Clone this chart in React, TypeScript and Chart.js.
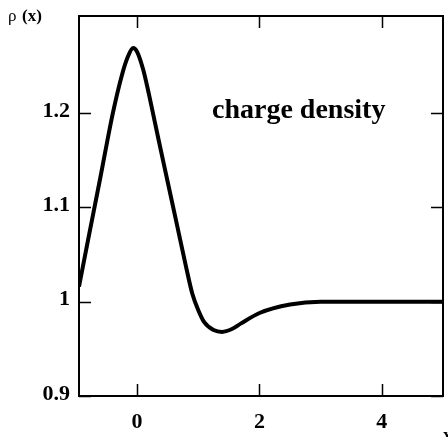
import React, { useEffect, useRef } from "react";
import { Chart, registerables } from "chart.js";

Chart.register(...registerables);

const xValues = [-0.95, -0.8, -0.6, -0.4, -0.25, -0.15, -0.065, 0.0, 0.1, 0.2, 0.35, 0.5, 0.65, 0.8, 0.9, 1.0, 1.1, 1.25, 1.39, 1.55, 1.7, 2.0, 2.5, 3.0, 3.5, 4.0, 4.5, 5.0];
const rhoValues = [1.016, 1.066, 1.132, 1.199, 1.24, 1.26, 1.269, 1.265, 1.246, 1.218, 1.172, 1.127, 1.082, 1.037, 1.009, 0.991, 0.978, 0.97, 0.968, 0.971, 0.977, 0.988, 0.997, 1.0, 1.0, 1.0, 1.0, 1.0];
const xTicks = [0, 2, 4];
const xTickLabels = ["0", "2", "4"];
const yTicks = [0.9, 1.0, 1.1, 1.2];
const yTickLabels = ["0.9", "1", "1.1", "1.2"];

const framePlugin = {
  id: "frame",
  afterDraw(chart: any) {
    const { ctx, chartArea } = chart;
    const xs = chart.scales.x;
    const ys = chart.scales.y;
    const { left, right, top, bottom } = chartArea;
    ctx.save();
    ctx.strokeStyle = "#000";
    ctx.lineWidth = 2;
    ctx.strokeRect(left, top, right - left, bottom - top);
    ctx.lineWidth = 1.5;
    const tl = 12;
    ctx.beginPath();
    xTicks.forEach((v) => {
      const px = Math.round(xs.getPixelForValue(v)) + 0.5;
      ctx.moveTo(px, bottom);
      ctx.lineTo(px, bottom - tl);
      ctx.moveTo(px, top);
      ctx.lineTo(px, top + tl);
    });
    yTicks.forEach((v) => {
      const py = Math.round(ys.getPixelForValue(v)) + 0.5;
      ctx.moveTo(left, py);
      ctx.lineTo(left + tl, py);
      ctx.moveTo(right, py);
      ctx.lineTo(right - tl, py);
    });
    ctx.stroke();

    ctx.fillStyle = "#000";
    ctx.font = "bold 22px 'Liberation Serif'";
    ctx.textAlign = "center";
    ctx.textBaseline = "middle";
    xTicks.forEach((v, i) => {
      ctx.fillText(xTickLabels[i], xs.getPixelForValue(v), bottom + 26);
    });
    ctx.textAlign = "right";
    yTicks.forEach((v, i) => {
      ctx.fillText(yTickLabels[i], left - 9, ys.getPixelForValue(v) - 2);
    });

    ctx.font = "bold 28px 'Liberation Serif'";
    ctx.textAlign = "left";
    ctx.textBaseline = "alphabetic";
    ctx.fillText("charge density", 212, 118);

    ctx.font = "17px 'Liberation Serif'";
    ctx.textBaseline = "middle";
    ctx.fillText("ρ", 8, 17);
    ctx.font = "bold 17px 'Liberation Serif'";
    ctx.fillText("(x)", 22, 17);
    ctx.font = "bold 17px 'Liberation Serif'";
    ctx.fillText("x", 443, 436);
    ctx.restore();
  },
};

export default function App() {
  const ref = useRef<HTMLCanvasElement | null>(null);
  useEffect(() => {
    document.body.style.margin = "0";
    const canvas = ref.current!;
    const chart = new Chart(canvas, {
      type: "line",
      data: {
        datasets: [
          {
            data: xValues.map((x, i) => ({ x, y: rhoValues[i] })),
            borderColor: "#000",
            borderWidth: 4,
            pointRadius: 0,
            fill: false,
            cubicInterpolationMode: "monotone",
          },
        ],
      },
      options: {
        responsive: false,
        animation: false,
        layout: { padding: { left: 79, right: 5, top: 16, bottom: 41 } },
        plugins: { legend: { display: false }, tooltip: { enabled: false } },
        scales: {
          x: { type: "linear", min: -0.95, max: 5, display: false },
          y: { type: "linear", min: 0.9, max: 1.303, display: false },
        },
      },
      plugins: [framePlugin],
    });
    return () => chart.destroy();
  }, []);
  return (
    <div style={{ position: "absolute", left: 0, top: 0, width: 448, height: 437, background: "#fff" }}>
      <canvas ref={ref} width={448} height={437} style={{ width: 448, height: 437, display: "block" }} />
    </div>
  );
}
